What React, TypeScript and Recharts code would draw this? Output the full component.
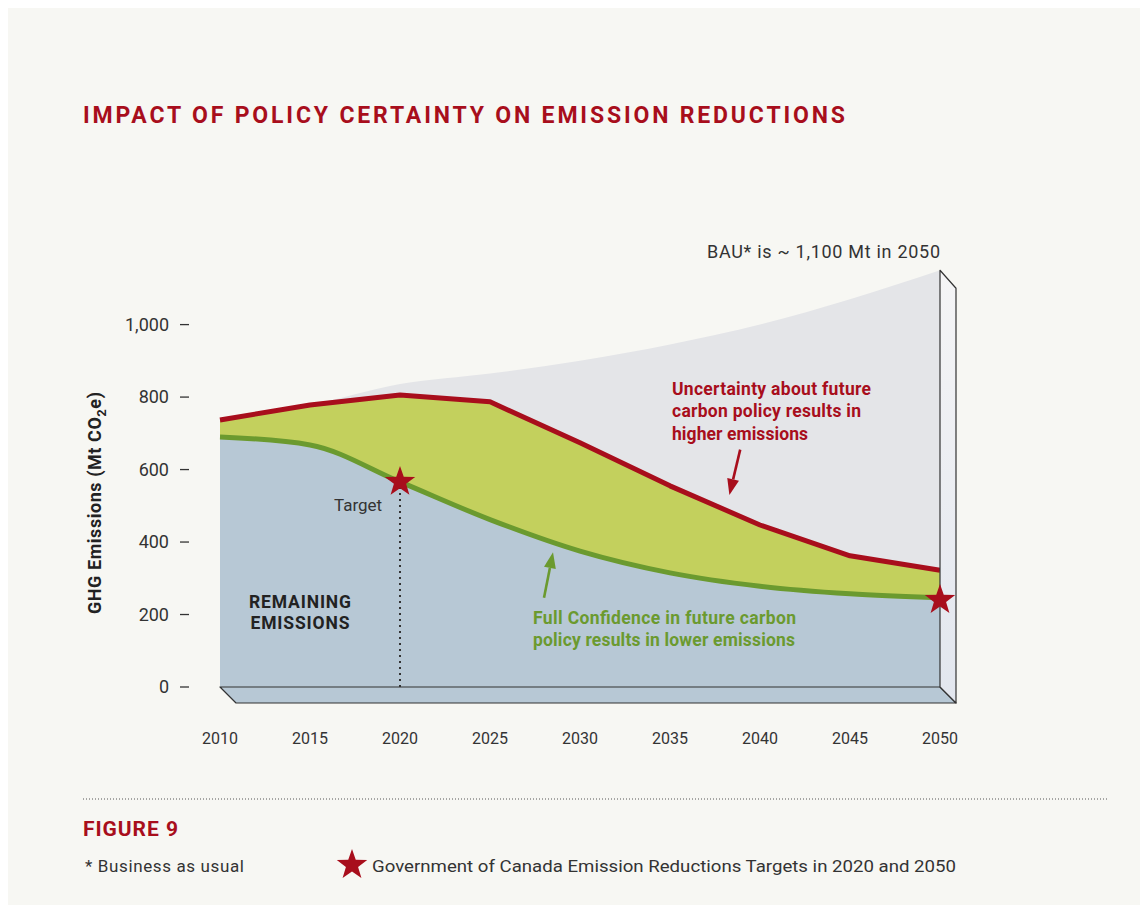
import React from 'react';
import { ComposedChart, Area, XAxis, YAxis, Scatter, ReferenceLine } from 'recharts';

// emissions, Mt CO2e
const years = [2010, 2015, 2020, 2025, 2030, 2035, 2040, 2045, 2050];
const bau = [737, 778, 836, 865, 900, 945, 1000, 1070, 1150];
const uncertain = [737, 778, 806, 787, 674, 555, 447, 362, 322];
const confident = [690, 668, 566, 462, 375, 315, 278, 257, 246];

const yTicks = [0, 200, 400, 600, 800, 1000];
const targetYears = [2020, 2050];
const targetValues = [566, 240];

const RED = '#a80e1c';
const GREEN = '#6b9a2f';
const BLUE = '#b7c8d5';
const LIME = '#c3d05d';
const GREY = '#e4e5e8';
const INK = '#333333';
const BG = '#f7f7f3';
const FONT = 'Roboto, "Liberation Sans", sans-serif';

const data = years.map((year, i) => ({
  year,
  bau: bau[i],
  uncertain: uncertain[i],
  confident: confident[i],
}));

const targets = targetYears.map((year, i) => ({ year, target: targetValues[i] }));

const starPoints = (cx: number, cy: number, r: number) => {
  const inner = r * 0.4;
  const pts: string[] = [];
  for (let i = 0; i < 10; i++) {
    const rad = i % 2 === 0 ? r : inner;
    const a = -Math.PI / 2 + (i * Math.PI) / 5;
    pts.push(`${cx + rad * Math.cos(a)},${cy + rad * Math.sin(a)}`);
  }
  return pts.join(' ');
};

const Star = (props: any) => {
  const { cx, cy } = props;
  if (cx == null || cy == null) return null;
  return <polygon points={starPoints(cx, cy, 16)} fill={RED} />;
};

const YTick = (props: any) => {
  const { x, y, payload } = props;
  return (
    <g>
      <text x={x - 51} y={y + 6} textAnchor="end" fontSize={18} fill={INK} fontFamily={FONT}>
        {payload.value.toLocaleString('en-US')}
      </text>
      <line x1={x - 40} x2={x - 31} y1={y} y2={y} stroke={INK} strokeWidth={1.3} />
    </g>
  );
};

const XTick = (props: any) => {
  const { x, y, payload } = props;
  return (
    <text x={x} y={y + 57} textAnchor="middle" fontSize={16} fill={INK} fontFamily={FONT}>
      {payload.value}
    </text>
  );
};

const DEPTH = 16;

// 3D floor under the plot
const Floor = (p: any) => {
  const xa = Math.min(p.x1, p.x2);
  const xb = Math.max(p.x1, p.x2);
  const y = p.y1;
  return (
    <polygon
      points={`${xa},${y} ${xb},${y} ${xb + DEPTH},${y + DEPTH} ${xa + DEPTH},${y + DEPTH}`}
      fill={BLUE}
      stroke={INK}
      strokeWidth={1.2}
      strokeLinejoin="round"
    />
  );
};

// side wall at 2050
const Wall = (p: any) => {
  const x = p.x1;
  const top = Math.min(p.y1, p.y2);
  const bottom = Math.max(p.y1, p.y2);
  return (
    <g>
      <defs>
        <linearGradient id="wallGrad" x1="0" y1="0" x2="0" y2="1">
          <stop offset="0%" stopColor="#f5f5f6" />
          <stop offset="100%" stopColor="#e2e6ee" />
        </linearGradient>
      </defs>
      <polygon
        points={`${x},${top} ${x + DEPTH},${top + 18} ${x + DEPTH},${bottom + DEPTH} ${x},${bottom}`}
        fill="url(#wallGrad)"
        stroke={INK}
        strokeWidth={1.2}
        strokeLinejoin="round"
      />
    </g>
  );
};

const makeArrow = (color: string) => (p: any) => {
  const { x1, y1, x2, y2 } = p;
  const dx = x2 - x1;
  const dy = y2 - y1;
  const len = Math.sqrt(dx * dx + dy * dy) || 1;
  const ux = dx / len;
  const uy = dy / len;
  const head = 16;
  const half = 6;
  const bx = x2 - ux * head;
  const by = y2 - uy * head;
  return (
    <g>
      <line x1={x1} y1={y1} x2={bx} y2={by} stroke={color} strokeWidth={2.6} />
      <polygon
        points={`${x2},${y2} ${bx - uy * half},${by + ux * half} ${bx + uy * half},${by - ux * half}`}
        fill={color}
      />
    </g>
  );
};

const W = 1140;
const H = 897;

export default function App() {
  return (
    <div style={{ position: 'relative', width: W, height: H, background: BG, fontFamily: FONT }}>
      <ComposedChart
        width={W}
        height={H}
        data={data}
        margin={{ top: 226, right: 208, bottom: 158, left: 0 }}
      >
        <XAxis
          dataKey="year"
          type="number"
          domain={[2010, 2050]}
          ticks={years}
          axisLine={false}
          tickLine={false}
          tickSize={0}
          tickMargin={0}
          height={60}
          tick={<XTick />}
          interval={0}
        />
        <YAxis
          type="number"
          domain={[0, 1250]}
          ticks={yTicks}
          axisLine={false}
          tickLine={false}
          tickSize={0}
          tickMargin={0}
          width={212}
          tick={<YTick />}
          interval={0}
        />
        <Area
          dataKey="bau"
          type="monotone"
          fill={GREY}
          fillOpacity={1}
          stroke="none"
          isAnimationActive={false}
        />
        <Area
          dataKey="uncertain"
          type="linear"
          fill={LIME}
          fillOpacity={1}
          stroke={RED}
          strokeWidth={5}
          strokeLinejoin="round"
          isAnimationActive={false}
        />
        <Area
          dataKey="confident"
          type="monotone"
          fill={BLUE}
          fillOpacity={1}
          stroke={GREEN}
          strokeWidth={5}
          isAnimationActive={false}
        />
        <ReferenceLine
          segment={[{ x: 2010, y: 0 }, { x: 2050, y: 0 }]}
          shape={Floor}
          ifOverflow="visible"
        />
        <ReferenceLine
          segment={[{ x: 2050, y: 0 }, { x: 2050, y: bau[bau.length - 1] }]}
          shape={Wall}
          ifOverflow="visible"
        />
        <ReferenceLine
          segment={[{ x: targetYears[0], y: 0 }, { x: targetYears[0], y: targetValues[0] }]}
          stroke={INK}
          strokeWidth={2}
          strokeDasharray="2 4"
        />
        <ReferenceLine
          segment={[{ x: 2038.9, y: 655 }, { x: 2038.3, y: 530 }]}
          shape={makeArrow(RED)}
        />
        <ReferenceLine
          segment={[{ x: 2028, y: 246 }, { x: 2028.5, y: 372 }]}
          shape={makeArrow(GREEN)}
        />
        <Scatter
          data={targets}
          dataKey="target"
          shape={<Star />}
          isAnimationActive={false}
        />
      </ComposedChart>

      <svg
        width={W}
        height={H}
        style={{ position: 'absolute', left: 0, top: 0, pointerEvents: 'none' }}
        fontFamily={FONT}
      >
        <text x={75} y={115} fontSize={23} fontWeight={700} fill={RED} textLength={762} lengthAdjust="spacing">
          IMPACT OF POLICY CERTAINTY ON EMISSION REDUCTIONS
        </text>

        <text x={932} y={250} textAnchor="end" fontSize={18} fill={INK} textLength={233} lengthAdjust="spacing">
          BAU* is ~ 1,100 Mt in 2050
        </text>

        <text
          transform="translate(93,495) rotate(-90)"
          textAnchor="middle"
          fontSize={18}
          fontWeight={700}
          fill="#222"
          textLength={222}
          lengthAdjust="spacing"
        >
          GHG Emissions (Mt CO<tspan dy={5} fontSize={13}>2</tspan><tspan dy={-5}>e)</tspan>
        </text>

        <text x={326} y={503} fontSize={17} fill={INK}>Target</text>

        <text x={292} y={600} textAnchor="middle" fontSize={17.5} fontWeight={700} fill="#222" textLength={102} lengthAdjust="spacing">REMAINING</text>
        <text x={292} y={621} textAnchor="middle" fontSize={17.5} fontWeight={700} fill="#222" textLength={99} lengthAdjust="spacing">EMISSIONS</text>

        <g fontSize={17.5} fontWeight={700} fill={RED}>
          <text x={664} y={387} textLength={199} lengthAdjust="spacing">Uncertainty about future</text>
          <text x={664} y={409} textLength={189} lengthAdjust="spacing">carbon policy results in</text>
          <text x={664} y={432} textLength={136} lengthAdjust="spacing">higher emissions</text>
        </g>

        <g fontSize={17.5} fontWeight={700} fill={GREEN}>
          <text x={525} y={616} textLength={263} lengthAdjust="spacing">Full Confidence in future carbon</text>
          <text x={525} y={638} textLength={262} lengthAdjust="spacing">policy results in lower emissions</text>
        </g>

        <line x1={75} x2={1099} y1={791} y2={791} stroke="#555" strokeWidth={1} strokeDasharray="1 2" />

        <text x={75} y={828} fontSize={21} fontWeight={700} fill={RED} textLength={95} lengthAdjust="spacing">FIGURE 9</text>
        <text x={77} y={864} fontSize={17} fill={INK} textLength={159} lengthAdjust="spacing">* Business as usual</text>
        <polygon points={starPoints(344, 857, 16)} fill={RED} />
        <text x={364} y={864} fontSize={17} fill={INK} textLength={584} lengthAdjust="spacingAndGlyphs">
          Government of Canada Emission Reductions Targets in 2020 and 2050
        </text>
      </svg>
    </div>
  );
}
